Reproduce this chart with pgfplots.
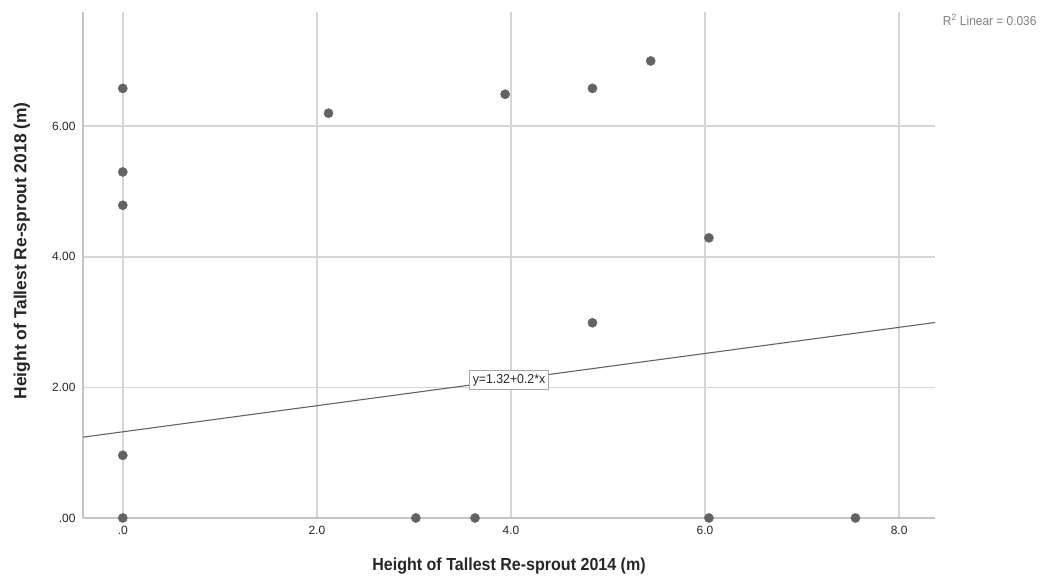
\documentclass[border=0pt]{standalone}
\usepackage{graphicx}
\usepackage{pgfplots}
\pgfplotsset{compat=1.18}
\usepackage{fontspec}
\setmainfont{Liberation Sans}
\definecolor{markc}{HTML}{636363}
\definecolor{gridc}{HTML}{D6D6D6}
\definecolor{axc}{HTML}{C4C4C4}
\definecolor{txt}{HTML}{262626}
\begin{document}
\begin{tikzpicture}[x=1bp,y=1bp]
\useasboundingbox (0,0) rectangle (1043,582);
\begin{axis}[
  at={(83bp,64bp)}, anchor=south west,
  scale only axis, width=852bp, height=506bp,
  xmin=-0.41, xmax=8.37, ymin=0, ymax=7.75,
  axis x line*=bottom, axis y line*=left,
  axis line style={axc, line width=2bp},
  xtick={0,2,4,6,8}, xticklabels={.0,2.0,4.0,6.0,8.0},
  ytick={0,2,4,6}, yticklabels={.00,2.00,4.00,6.00},
  major tick length=0pt,
  grid=major, grid style={gridc, line width=1.5bp},
  tick label style={font=\fontsize{12}{14}\selectfont, text=txt},
  /pgf/number format/assume math mode=true,
  xticklabel style={yshift=-5bp},
  yticklabel style={xshift=-4bp},
  xlabel={\scalebox{0.92}[1]{\textbf{Height of Tallest Re-sprout 2014 (m)}}},
  ylabel={\textbf{Height of Tallest Re-sprout 2018 (m)}},
  label style={font=\fontsize{17.5}{20}\selectfont, text=txt},
  xlabel style={at={(axis description cs:0.5,0)}, anchor=center, yshift=-48bp},
  ylabel style={at={(axis description cs:0,0.528)}, anchor=center, yshift=61bp},
]
\addplot[only marks, mark=*, mark size=4.6bp, color=markc] coordinates {
(0,6.58) (0,5.30) (0,4.79) (0,0.96) (0,0)
(2.12,6.20) (3.02,0) (3.63,0) (3.94,6.49) (4.84,6.58)
(5.44,7.00) (4.84,2.99) (6.04,4.29) (6.04,0) (7.55,0)
};
\addplot[color=markc, line width=1.1bp] coordinates {(-0.41,1.238) (8.37,2.994)};
\node[draw=gray!70, fill=white, inner sep=3.5bp, line width=1bp, font=\fontsize{13}{15}\selectfont, text=txt] at (axis cs:3.98,2.11) {\scalebox{0.95}[1]{y=1.32+0.2*x}};
\end{axis}
\node[anchor=east, font=\fontsize{13}{15}\selectfont, text=gray] at (1040bp,562bp) {\scalebox{0.92}[1]{R\textsuperscript{2} Linear = 0.036}};
\end{tikzpicture}
\end{document}
